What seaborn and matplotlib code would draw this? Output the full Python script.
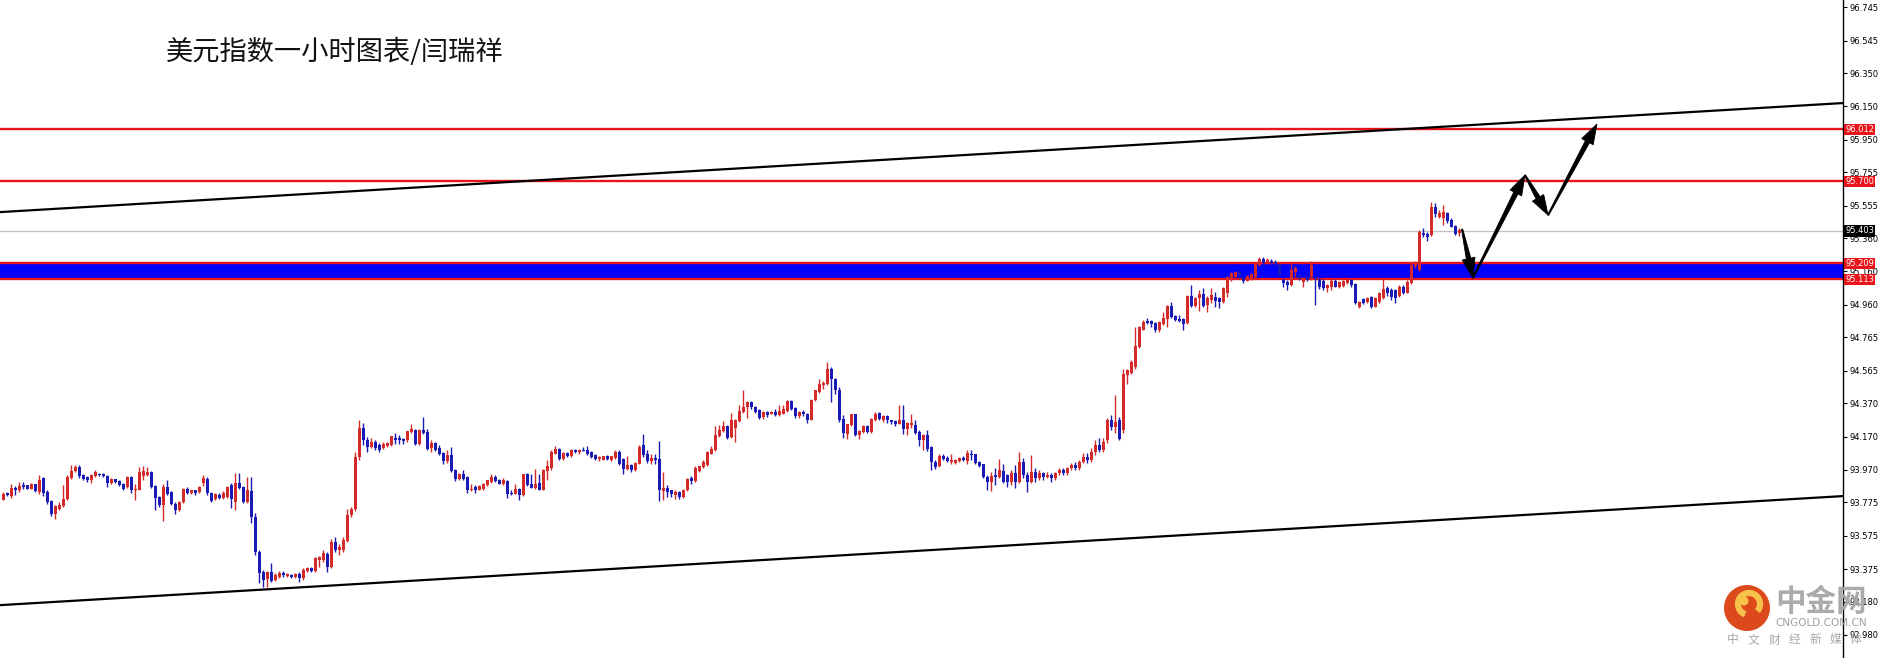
import numpy as np
import pandas as pd
import matplotlib
matplotlib.use("Agg")
import matplotlib.pyplot as plt
import seaborn as sns
from matplotlib.patches import Polygon, Circle, Arc
from matplotlib.transforms import blended_transform_factory, IdentityTransform

# ---------------- data ----------------
title = "美元指数一小时图表/闫瑞祥"

opens = [
    93.792, 93.832, 93.812, 93.862, 93.848, 93.882, 93.878, 93.858, 93.884, 93.838,
    93.922, 93.838, 93.784, 93.704, 93.738, 93.754, 93.798, 93.924, 93.964, 93.988,
    93.938, 93.928, 93.908, 93.936, 93.948, 93.948, 93.932, 93.892, 93.914, 93.904,
    93.888, 93.868, 93.928, 93.848, 93.852, 93.934, 93.938, 93.958, 93.872, 93.808,
    93.758, 93.868, 93.838, 93.768, 93.728, 93.778, 93.858, 93.832, 93.848, 93.838,
    93.889, 93.913, 93.833, 93.795, 93.821, 93.801, 93.809, 93.877, 93.779, 93.889,
    93.865, 93.779, 93.845, 93.689, 93.479, 93.359, 93.313, 93.357, 93.309, 93.329,
    93.349, 93.333, 93.341, 93.325, 93.345, 93.319, 93.365, 93.379, 93.365, 93.429,
    93.429, 93.465, 93.389, 93.539, 93.489, 93.489, 93.545, 93.699, 93.733, 94.050,
    94.220, 94.150, 94.110, 94.140, 94.118, 94.104, 94.112, 94.118, 94.164, 94.164,
    94.158, 94.152, 94.198, 94.208, 94.124, 94.208, 94.198, 94.104, 94.132, 94.102,
    94.072, 94.022, 94.058, 93.968, 93.918, 93.944, 93.928, 93.848, 93.868, 93.852,
    93.858, 93.878, 93.898, 93.928, 93.908, 93.888, 93.904, 93.832, 93.828, 93.858,
    93.818, 93.944, 93.888, 93.864, 93.892, 93.852, 93.964, 93.984, 94.068, 94.098,
    94.038, 94.072, 94.052, 94.092, 94.078, 94.092, 94.088, 94.078, 94.058, 94.038,
    94.032, 94.052, 94.028, 94.044, 94.078, 94.038, 93.978, 93.998, 93.972, 94.008,
    94.118, 94.064, 94.024, 94.044, 94.038, 93.844, 93.864, 93.848, 93.818, 93.838,
    93.808, 93.848, 93.924, 93.904, 93.964, 93.988, 93.998, 94.068, 94.088, 94.172,
    94.204, 94.232, 94.168, 94.224, 94.264, 94.318, 94.348, 94.378, 94.348, 94.328,
    94.288, 94.318, 94.308, 94.318, 94.298, 94.308, 94.324, 94.384, 94.344, 94.292,
    94.318, 94.308, 94.272, 94.388, 94.438, 94.478, 94.484, 94.578, 94.518, 94.452,
    94.278, 94.188, 94.238, 94.304, 94.178, 94.198, 94.232, 94.198, 94.268, 94.312,
    94.268, 94.292, 94.268, 94.264, 94.248, 94.272, 94.218, 94.238, 94.238, 94.198,
    94.148, 94.178, 94.108, 94.018, 93.992, 94.052, 94.044, 94.018, 94.012, 94.024,
    94.044, 94.024, 94.068, 94.064, 94.018, 94.004, 93.928, 93.898, 93.938, 93.928,
    93.964, 93.938, 93.900, 93.950, 93.900, 94.020, 93.940, 93.900, 93.960, 93.920,
    93.950, 93.930, 93.940, 93.920, 93.950, 93.970, 93.950, 93.980, 94.000, 93.980,
    94.020, 94.050, 94.030, 94.080, 94.120, 94.090, 94.148, 94.268, 94.228, 94.268,
    94.208, 94.538, 94.552, 94.588, 94.708, 94.812, 94.864, 94.864, 94.848, 94.808,
    94.844, 94.872, 94.952, 94.892, 94.872, 94.872, 94.848, 95.012, 94.952, 94.998,
    95.024, 94.958, 94.988, 95.004, 94.998, 94.978, 95.032, 95.118, 95.128, 95.158,
    95.118, 95.104, 95.118, 95.124, 95.198, 95.232, 95.212, 95.224, 95.218, 95.204,
    95.108, 95.098, 95.078, 95.158, 95.138, 95.098, 95.132, 95.124, 95.124, 95.112,
    95.104, 95.058, 95.068, 95.104, 95.068, 95.072, 95.088, 95.108, 95.084, 94.948,
    94.992, 94.978, 95.004, 94.948, 94.978, 94.998, 95.058, 95.048, 95.048, 95.012,
    95.068, 95.032, 95.088, 95.192, 95.168, 95.392, 95.384, 95.378, 95.548, 95.488,
    95.478, 95.508, 95.468, 95.432, 95.388,
]

highs = [
    93.838, 93.835, 93.888, 93.874, 93.898, 93.898, 93.880, 93.892, 93.888, 93.938,
    93.928, 93.848, 93.788, 93.758, 93.778, 93.878, 93.938, 93.998, 93.998, 93.998,
    93.948, 93.932, 93.948, 93.968, 93.952, 93.952, 93.938, 93.922, 93.918, 93.908,
    93.890, 93.932, 93.934, 93.888, 93.988, 93.992, 93.988, 93.964, 93.878, 93.812,
    93.888, 93.912, 93.842, 93.778, 93.782, 93.862, 93.868, 93.852, 93.850, 93.872,
    93.939, 93.925, 93.839, 93.833, 93.829, 93.845, 93.873, 93.889, 93.949, 93.949,
    93.873, 93.929, 93.929, 93.709, 93.489, 93.369, 93.365, 93.409, 93.349, 93.361,
    93.365, 93.349, 93.345, 93.349, 93.359, 93.379, 93.385, 93.389, 93.445, 93.453,
    93.489, 93.479, 93.553, 93.565, 93.525, 93.565, 93.733, 93.745, 94.079, 94.270,
    94.250, 94.170, 94.160, 94.150, 94.130, 94.138, 94.136, 94.176, 94.192, 94.178,
    94.164, 94.204, 94.244, 94.218, 94.216, 94.288, 94.218, 94.152, 94.138, 94.118,
    94.078, 94.088, 94.108, 93.978, 93.952, 93.968, 93.932, 93.888, 93.878, 93.878,
    93.892, 93.912, 93.944, 93.938, 93.918, 93.924, 93.908, 93.852, 93.888, 93.864,
    93.948, 93.952, 93.948, 93.978, 93.944, 93.978, 94.032, 94.088, 94.112, 94.104,
    94.078, 94.078, 94.096, 94.098, 94.096, 94.108, 94.112, 94.084, 94.068, 94.052,
    94.056, 94.058, 94.056, 94.088, 94.092, 94.044, 94.052, 94.008, 94.018, 94.118,
    94.188, 94.088, 94.068, 94.064, 94.144, 93.958, 93.878, 93.852, 93.848, 93.844,
    93.858, 93.924, 93.932, 93.992, 93.996, 94.028, 94.084, 94.112, 94.232, 94.238,
    94.264, 94.238, 94.312, 94.278, 94.358, 94.452, 94.384, 94.384, 94.352, 94.338,
    94.324, 94.324, 94.324, 94.338, 94.358, 94.358, 94.388, 94.392, 94.348, 94.324,
    94.332, 94.312, 94.398, 94.452, 94.518, 94.504, 94.618, 94.588, 94.524, 94.468,
    94.298, 94.248, 94.308, 94.308, 94.212, 94.238, 94.238, 94.284, 94.318, 94.318,
    94.298, 94.298, 94.272, 94.272, 94.358, 94.358, 94.258, 94.304, 94.272, 94.212,
    94.184, 94.212, 94.112, 94.028, 94.068, 94.068, 94.052, 94.068, 94.038, 94.048,
    94.052, 94.088, 94.088, 94.068, 94.024, 94.008, 93.938, 93.958, 93.984, 94.038,
    94.004, 93.948, 93.970, 94.000, 94.080, 94.040, 93.960, 94.060, 93.980, 93.970,
    93.960, 93.960, 93.950, 93.960, 93.980, 93.980, 93.990, 94.010, 94.020, 94.030,
    94.070, 94.070, 94.100, 94.150, 94.160, 94.160, 94.280, 94.300, 94.418, 94.288,
    94.578, 94.578, 94.628, 94.828, 94.832, 94.868, 94.878, 94.868, 94.858, 94.864,
    94.918, 94.958, 94.978, 94.898, 94.898, 94.878, 95.018, 95.078, 95.004, 95.048,
    95.058, 95.012, 95.058, 95.038, 95.008, 95.068, 95.132, 95.158, 95.164, 95.170,
    95.120, 95.140, 95.150, 95.210, 95.245, 95.245, 95.238, 95.235, 95.228, 95.210,
    95.118, 95.108, 95.204, 95.192, 95.148, 95.128, 95.140, 95.224, 95.124, 95.118,
    95.112, 95.084, 95.112, 95.112, 95.100, 95.110, 95.112, 95.112, 95.088, 94.984,
    94.998, 95.004, 95.012, 95.004, 95.038, 95.118, 95.072, 95.058, 95.052, 95.078,
    95.078, 95.108, 95.218, 95.224, 95.408, 95.418, 95.398, 95.578, 95.568, 95.528,
    95.558, 95.518, 95.478, 95.438, 95.418,
]

lows = [
    93.788, 93.815, 93.804, 93.818, 93.838, 93.858, 93.855, 93.855, 93.840, 93.828,
    93.812, 93.768, 93.692, 93.678, 93.728, 93.748, 93.792, 93.918, 93.958, 93.924,
    93.908, 93.898, 93.892, 93.928, 93.936, 93.928, 93.868, 93.888, 93.894, 93.874,
    93.852, 93.864, 93.834, 93.792, 93.848, 93.908, 93.932, 93.864, 93.732, 93.750,
    93.664, 93.818, 93.762, 93.708, 93.722, 93.772, 93.824, 93.828, 93.818, 93.834,
    93.873, 93.819, 93.779, 93.789, 93.793, 93.795, 93.803, 93.739, 93.729, 93.855,
    93.773, 93.769, 93.649, 93.459, 93.289, 93.265, 93.269, 93.297, 93.303, 93.321,
    93.329, 93.329, 93.321, 93.319, 93.299, 93.309, 93.359, 93.359, 93.359, 93.389,
    93.419, 93.359, 93.379, 93.479, 93.459, 93.479, 93.539, 93.689, 93.725, 94.030,
    94.120, 94.080, 94.100, 94.090, 94.080, 94.098, 94.108, 94.112, 94.128, 94.128,
    94.124, 94.138, 94.192, 94.118, 94.120, 94.188, 94.088, 94.078, 94.084, 94.058,
    94.008, 94.012, 93.958, 93.904, 93.912, 93.912, 93.832, 93.844, 93.832, 93.848,
    93.852, 93.872, 93.892, 93.898, 93.884, 93.878, 93.804, 93.820, 93.824, 93.792,
    93.812, 93.872, 93.862, 93.858, 93.848, 93.848, 93.912, 93.972, 94.064, 94.032,
    94.028, 94.048, 94.048, 94.072, 94.068, 94.082, 94.062, 94.042, 94.028, 94.024,
    94.028, 94.028, 94.024, 94.038, 93.998, 93.948, 93.968, 93.958, 93.964, 94.004,
    94.048, 94.012, 94.008, 94.004, 93.784, 93.792, 93.808, 93.808, 93.798, 93.798,
    93.804, 93.844, 93.884, 93.898, 93.960, 93.984, 93.992, 94.064, 94.084, 94.168,
    94.198, 94.158, 94.164, 94.138, 94.258, 94.312, 94.284, 94.338, 94.312, 94.278,
    94.278, 94.288, 94.304, 94.292, 94.292, 94.304, 94.318, 94.332, 94.284, 94.284,
    94.292, 94.252, 94.268, 94.384, 94.432, 94.458, 94.478, 94.378, 94.428, 94.258,
    94.164, 94.158, 94.232, 94.172, 94.154, 94.192, 94.192, 94.192, 94.264, 94.272,
    94.258, 94.252, 94.244, 94.232, 94.244, 94.184, 94.178, 94.224, 94.184, 94.112,
    94.088, 94.084, 93.968, 93.978, 93.988, 94.028, 94.018, 94.008, 94.004, 94.018,
    94.024, 94.004, 94.028, 94.004, 93.988, 93.924, 93.848, 93.844, 93.878, 93.924,
    93.892, 93.868, 93.880, 93.860, 93.890, 93.920, 93.840, 93.890, 93.900, 93.910,
    93.910, 93.920, 93.900, 93.910, 93.940, 93.940, 93.940, 93.970, 93.970, 93.970,
    94.010, 94.010, 94.020, 94.060, 94.080, 94.080, 94.130, 94.210, 94.190, 94.148,
    94.190, 94.488, 94.548, 94.578, 94.700, 94.808, 94.844, 94.828, 94.798, 94.798,
    94.838, 94.828, 94.878, 94.862, 94.858, 94.812, 94.844, 94.944, 94.944, 94.924,
    94.944, 94.918, 94.968, 94.944, 94.938, 94.972, 95.004, 95.104, 95.124, 95.120,
    95.090, 95.100, 95.110, 95.120, 95.190, 95.205, 95.205, 95.200, 95.190, 95.130,
    95.068, 95.048, 95.072, 95.124, 95.110, 95.068, 95.100, 95.108, 94.958, 95.052,
    95.048, 95.038, 95.048, 95.064, 95.062, 95.068, 95.084, 95.068, 94.964, 94.938,
    94.964, 94.968, 94.938, 94.944, 94.968, 94.992, 95.012, 94.988, 94.972, 95.004,
    95.024, 95.028, 95.084, 95.178, 95.164, 95.368, 95.344, 95.372, 95.488, 95.478,
    95.438, 95.452, 95.424, 95.378, 95.372,
]

closes = [
    93.828, 93.818, 93.862, 93.848, 93.874, 93.868, 93.858, 93.888, 93.844, 93.912,
    93.832, 93.778, 93.704, 93.752, 93.758, 93.798, 93.928, 93.962, 93.988, 93.932,
    93.918, 93.908, 93.938, 93.956, 93.940, 93.932, 93.892, 93.918, 93.898, 93.878,
    93.858, 93.928, 93.848, 93.858, 93.958, 93.964, 93.958, 93.868, 93.804, 93.758,
    93.868, 93.828, 93.768, 93.728, 93.778, 93.858, 93.832, 93.848, 93.834, 93.868,
    93.919, 93.829, 93.785, 93.825, 93.801, 93.833, 93.865, 93.793, 93.889, 93.861,
    93.779, 93.849, 93.689, 93.479, 93.353, 93.309, 93.359, 93.305, 93.339, 93.353,
    93.337, 93.345, 93.325, 93.345, 93.319, 93.369, 93.379, 93.365, 93.439, 93.445,
    93.469, 93.389, 93.539, 93.489, 93.509, 93.549, 93.699, 93.733, 94.049, 94.220,
    94.150, 94.110, 94.140, 94.100, 94.092, 94.128, 94.132, 94.172, 94.152, 94.148,
    94.144, 94.202, 94.218, 94.124, 94.212, 94.192, 94.098, 94.132, 94.088, 94.068,
    94.022, 94.058, 93.964, 93.918, 93.944, 93.918, 93.852, 93.858, 93.852, 93.872,
    93.888, 93.908, 93.928, 93.904, 93.888, 93.912, 93.828, 93.824, 93.858, 93.818,
    93.944, 93.878, 93.864, 93.888, 93.852, 93.968, 93.992, 94.078, 94.098, 94.038,
    94.072, 94.052, 94.092, 94.078, 94.092, 94.084, 94.064, 94.048, 94.038, 94.048,
    94.052, 94.038, 94.052, 94.078, 94.008, 93.978, 93.998, 93.972, 94.012, 94.108,
    94.058, 94.024, 94.044, 94.028, 93.848, 93.864, 93.838, 93.828, 93.838, 93.808,
    93.852, 93.918, 93.904, 93.984, 93.992, 94.018, 94.078, 94.098, 94.178, 94.208,
    94.232, 94.164, 94.268, 94.268, 94.324, 94.348, 94.378, 94.348, 94.318, 94.284,
    94.318, 94.298, 94.318, 94.298, 94.324, 94.338, 94.384, 94.338, 94.292, 94.318,
    94.304, 94.272, 94.392, 94.448, 94.488, 94.492, 94.578, 94.518, 94.448, 94.268,
    94.192, 94.244, 94.304, 94.178, 94.204, 94.232, 94.198, 94.278, 94.308, 94.278,
    94.292, 94.268, 94.258, 94.248, 94.272, 94.218, 94.252, 94.252, 94.192, 94.152,
    94.178, 94.098, 94.018, 93.988, 94.052, 94.038, 94.024, 94.028, 94.032, 94.044,
    94.032, 94.072, 94.058, 94.012, 93.992, 93.928, 93.898, 93.932, 93.928, 93.968,
    93.898, 93.898, 93.950, 93.900, 94.020, 93.940, 93.900, 93.960, 93.920, 93.950,
    93.930, 93.940, 93.920, 93.950, 93.970, 93.950, 93.980, 94.000, 93.980, 94.020,
    94.050, 94.030, 94.080, 94.120, 94.090, 94.140, 94.268, 94.228, 94.258, 94.158,
    94.548, 94.568, 94.618, 94.712, 94.828, 94.858, 94.852, 94.844, 94.808, 94.858,
    94.878, 94.952, 94.888, 94.868, 94.864, 94.844, 95.012, 94.952, 94.998, 95.024,
    94.952, 94.998, 95.018, 94.984, 94.978, 95.058, 95.128, 95.148, 95.158, 95.130,
    95.104, 95.132, 95.144, 95.204, 95.232, 95.212, 95.228, 95.208, 95.204, 95.140,
    95.088, 95.078, 95.168, 95.178, 95.118, 95.118, 95.108, 95.198, 95.112, 95.064,
    95.058, 95.078, 95.104, 95.068, 95.098, 95.104, 95.108, 95.078, 94.972, 94.978,
    94.972, 94.998, 94.948, 94.998, 95.032, 95.052, 95.028, 95.004, 94.998, 95.068,
    95.032, 95.098, 95.198, 95.212, 95.398, 95.378, 95.368, 95.548, 95.504, 95.508,
    95.518, 95.464, 95.428, 95.384, 95.408,
]

tick_values = [96.745, 96.545, 96.350, 96.150, 95.950, 95.755, 95.555, 95.360,
               95.160, 94.960, 94.765, 94.565, 94.370, 94.170, 93.970, 93.775,
               93.575, 93.375, 93.180, 92.980]
tick_labels = ["96.745", "96.545", "96.350", "96.150", "95.950", "95.755", "95.555",
               "95.360", "95.160", "94.960", "94.765", "94.565", "94.370", "94.170",
               "93.970", "93.775", "93.575", "93.375", "93.180", "92.980"]

red_levels = [96.012, 95.700, 95.209, 95.113]
bid_level = 95.403
zone_low, zone_high = 95.113, 95.209
upper_channel = [95.516, 96.170]   # price at left / right edge of the plot
lower_channel = [93.159, 93.813]
path_x = [364.7, 367.4, 380.4, 386.2, 398.4]      # forecast zigzag (bar index)
path_y = [95.414, 95.120, 95.738, 95.498, 96.044]  # forecast zigzag (price)

logo_name = "中金网"
logo_site = "CNGOLD.COM.CN"
logo_slogan = ["中", "文", "财", "经", "新", "媒", "体"]

assert len(opens) == len(highs) == len(lows) == len(closes)

# ---------------- figure ----------------
W, H = 1881, 658
sns.set_theme(style="white")
plt.rcParams["font.family"] = ["DejaVu Sans"]

fig = plt.figure(figsize=(W / 100, H / 100), dpi=100)
fig.patch.set_facecolor("white")
ax_right_px = 1843
ax = fig.add_axes([0, 0, ax_right_px / W, 1])
ax.set_facecolor("white")

xmin, xmax = -0.825, (ax_right_px - 3.3) / 4.0
ymin, ymax = 92.842, 96.788
ax.set_xlim(xmin, xmax)
ax.set_ylim(ymin, ymax)

df = pd.DataFrame({"o": opens, "h": highs, "l": lows, "c": closes})
df["x"] = np.arange(len(df))
RED = "#d42a2a"
BLUE = "#1a1ab4"
df["col"] = np.where(df["c"] >= df["o"], RED, BLUE)

# zone band and level lines
ax.axhspan(zone_low, zone_high, color="#0000ff", lw=0, zorder=1)
for lv in red_levels:
    ax.axhline(lv, color="#e8141a", lw=1.7, zorder=1.5)
ax.axhline(bid_level, color="#c0c0c0", lw=0.9, zorder=1.2)

# channel lines (seaborn)
ch = pd.DataFrame({"x": [xmin, xmax, xmin, xmax],
                   "y": upper_channel + lower_channel,
                   "g": ["u", "u", "l", "l"]})
sns.lineplot(data=ch, x="x", y="y", units="g", estimator=None, color="black",
             lw=1.6, ax=ax, zorder=2, legend=False)

# candles
ax.vlines(df["x"], df["l"], df["h"], colors=df["col"], lw=1.0, zorder=3)
body_lo = np.minimum(df["o"], df["c"])
body_h = np.maximum(np.abs(df["c"] - df["o"]), 0.006)
ax.bar(df["x"], body_h, bottom=body_lo, width=0.7, color=df["col"], lw=0, zorder=4)

# axis styling
for s in ["left", "top", "bottom"]:
    ax.spines[s].set_visible(False)
ax.spines["right"].set_color("black")
ax.spines["right"].set_linewidth(1.0)
ax.set_xticks([])
ax.yaxis.tick_right()
ax.set_yticks(tick_values)
ax.set_yticklabels(tick_labels)
ax.tick_params(axis="y", length=3, width=0.8, pad=2, labelsize=6, colors="black",
               direction="out")
ax.set_xlabel("")
ax.set_ylabel("")

# price boxes on the axis
btr = blended_transform_factory(ax.transAxes, ax.transData)
for lv in red_levels:
    ax.text(1.0012, lv, f"{lv:.3f}", transform=btr, fontsize=6, color="white",
            va="center", ha="left", zorder=10, clip_on=False,
            bbox=dict(boxstyle="square,pad=0.15", fc="#e8141a", ec="none"))
ax.text(1.0012, bid_level, f"{bid_level:.3f}", transform=btr, fontsize=6,
        color="white", va="center", ha="left", zorder=10, clip_on=False,
        bbox=dict(boxstyle="square,pad=0.15", fc="black", ec="none"))

# forecast arrows
fig.canvas.draw()
inv = ax.transData.inverted()


def arrow_poly(p0, p1, head_len=20.0, head_hw=6.5, w0=0.6, w1=2.3):
    P0 = ax.transData.transform(p0)
    P1 = ax.transData.transform(p1)
    d = P1 - P0
    L = np.hypot(*d)
    u = d / L
    n = np.array([-u[1], u[0]])
    hb = P1 - u * head_len
    pts = [P0 + n * w0, hb + n * w1, hb + n * head_hw, P1,
           hb - n * head_hw, hb - n * w1, P0 - n * w0]
    return inv.transform(np.array(pts))


for i in range(len(path_x) - 1):
    pts = arrow_poly((path_x[i], path_y[i]), (path_x[i + 1], path_y[i + 1]))
    ax.add_patch(Polygon(pts, closed=True, fc="black", ec="black", lw=0.6, zorder=8))

# title
fig.text(166 / W, 1 - 52 / H, title, fontsize=19.6, ha="left", va="center",
         family=["Noto Sans CJK SC", "DejaVu Sans"], color="#111111")

# watermark logo (pixel coordinates from bottom-left)
idt = IdentityTransform()
fig.add_artist(Circle((1747, H - 608), 23, transform=idt, fc="#dc4a1c", ec="none",
                      zorder=20))
fig.add_artist(Arc((1749, H - 604), 22, 22, theta1=-40, theta2=250, transform=idt,
                   color="#f6c24a", lw=4.5, zorder=21))
fig.add_artist(Circle((1744, H - 601), 4.5, transform=idt, fc="#f6c24a", ec="none",
                      zorder=21))
fig.text(1821 / W, 56 / H, logo_name, fontsize=22, fontweight="bold", color="#a4a4a4",
         ha="center", va="center", family=["Noto Sans CJK SC"], alpha=0.92, zorder=20)
fig.text(1821 / W, 35 / H, logo_site, fontsize=7.5, color="#a0a0a0",
         ha="center", va="center", family=["DejaVu Sans"], zorder=20)
for i, ch_ in enumerate(logo_slogan):
    fig.text((1733 + i * 20.5) / W, 18 / H, ch_, fontsize=8.5, color="#a8a8a8",
             ha="center", va="center", family=["Noto Sans CJK SC"], zorder=20)

fig.savefig("out.png", dpi=100, facecolor="white")
